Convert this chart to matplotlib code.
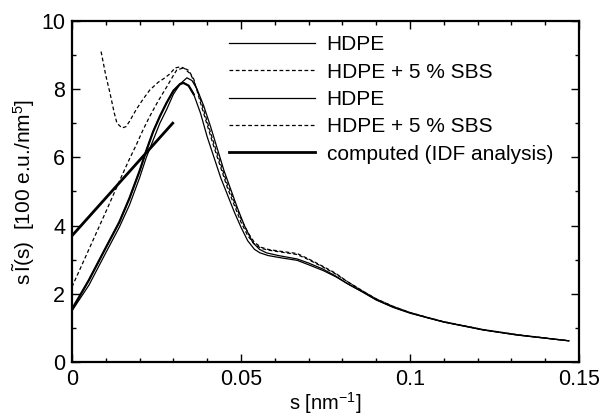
import matplotlib.pyplot as plt
from matplotlib.ticker import MultipleLocator

plt.rcParams['font.family'] = ['Liberation Sans', 'DejaVu Sans']
plt.rcParams['mathtext.fontset'] = 'custom'
plt.rcParams['mathtext.rm'] = 'Liberation Sans'
plt.rcParams['mathtext.it'] = 'Liberation Sans:italic'

# HDPE (solid, lower peak)
s_hdpe1 = [0, 0.005, 0.010, 0.014, 0.017, 0.020, 0.022, 0.024, 0.026, 0.028, 0.030,
           0.032, 0.033, 0.0345, 0.036, 0.038, 0.040, 0.042, 0.044, 0.046, 0.048,
           0.050, 0.052, 0.054, 0.0556, 0.058, 0.062, 0.0666, 0.070, 0.0743, 0.078,
           0.0814, 0.086, 0.090, 0.095, 0.100, 0.105, 0.110, 0.1216, 0.1317, 0.147]
i_hdpe1 = [1.5, 2.4, 3.35, 4.1, 4.8, 5.6, 6.2, 6.75, 7.2, 7.6, 7.95,
           8.15, 8.18, 8.1, 7.85, 7.3, 6.6, 6.0, 5.4, 4.9, 4.4,
           3.95, 3.55, 3.3, 3.2, 3.12, 3.05, 2.98, 2.85, 2.68, 2.5,
           2.3, 2.05, 1.82, 1.6, 1.43, 1.3, 1.17, 0.94, 0.79, 0.62]

# HDPE (solid, second curve)
s_hdpe2 = [0, 0.005, 0.010, 0.014, 0.017, 0.020, 0.022, 0.024, 0.026, 0.028, 0.030,
           0.032, 0.034, 0.0355, 0.037, 0.039, 0.041, 0.043, 0.045, 0.047, 0.049,
           0.051, 0.0535, 0.0555, 0.0575, 0.061, 0.0666, 0.070, 0.0743, 0.078,
           0.0814, 0.086, 0.090, 0.095, 0.100, 0.105, 0.110, 0.1216, 0.1317, 0.147]
i_hdpe2 = [1.5, 2.25, 3.2, 3.95, 4.6, 5.4, 6.0, 6.5, 7.0, 7.4, 7.85,
           8.15, 8.33, 8.25, 8.0, 7.5, 6.9, 6.25, 5.6, 5.05, 4.5,
           4.0, 3.5, 3.3, 3.2, 3.12, 3.02, 2.9, 2.72, 2.52,
           2.3, 2.05, 1.82, 1.61, 1.44, 1.3, 1.17, 0.94, 0.79, 0.62]

# HDPE + 5 % SBS (dashed, from s = 0)
s_sbs1 = [0, 0.005, 0.010, 0.0142, 0.017, 0.019, 0.021, 0.023, 0.0255, 0.028, 0.030,
          0.031, 0.033, 0.0345, 0.036, 0.038, 0.040, 0.042, 0.044, 0.046, 0.048,
          0.050, 0.052, 0.054, 0.056, 0.058, 0.062, 0.0666, 0.070, 0.0743, 0.078,
          0.0814, 0.086, 0.090, 0.095, 0.100, 0.105, 0.110, 0.1216, 0.1317, 0.147]
i_sbs1 = [2.2, 3.3, 4.4, 5.34, 5.95, 6.36, 6.8, 7.2, 7.65, 8.06, 8.4,
          8.56, 8.62, 8.55, 8.3, 7.6, 6.95, 6.3, 5.7, 5.1, 4.6,
          4.1, 3.7, 3.45, 3.33, 3.28, 3.22, 3.15, 3.0, 2.78, 2.58,
          2.36, 2.08, 1.85, 1.63, 1.45, 1.31, 1.18, 0.95, 0.8, 0.62]

# HDPE + 5 % SBS (dashed, with upturn at small s)
s_sbs2 = [0.0086, 0.0100, 0.0112, 0.0125, 0.0133, 0.0148, 0.016, 0.017, 0.019, 0.021,
          0.023, 0.0255, 0.0275, 0.029, 0.0305, 0.032, 0.033, 0.035, 0.036, 0.038,
          0.040, 0.042, 0.044, 0.046, 0.048, 0.050, 0.052, 0.054, 0.056, 0.058, 0.062,
          0.0666, 0.070, 0.0743, 0.078, 0.0814, 0.086, 0.090, 0.095, 0.100, 0.105,
          0.110, 0.1216, 0.1317, 0.147]
i_sbs2 = [9.1, 8.4, 7.9, 7.3, 7.0, 6.86, 6.9, 7.05, 7.4, 7.7,
          7.97, 8.2, 8.33, 8.45, 8.62, 8.65, 8.62, 8.45, 8.25, 7.7,
          7.05, 6.4, 5.8, 5.2, 4.7, 4.2, 3.8, 3.5, 3.36, 3.3, 3.24,
          3.18, 3.02, 2.8, 2.6, 2.36, 2.08, 1.85, 1.63, 1.45, 1.31,
          1.18, 0.95, 0.8, 0.62]

# computed (IDF analysis)
s_idf1 = [0, 0.0298]
i_idf1 = [3.7, 7.0]
s_idf2 = [0, 0.005, 0.010, 0.014, 0.017, 0.020, 0.022, 0.024, 0.026, 0.028, 0.030,
          0.032, 0.033, 0.0345, 0.036]
i_idf2 = [1.55, 2.4, 3.35, 4.1, 4.8, 5.6, 6.2, 6.75, 7.2, 7.6, 7.95,
          8.15, 8.18, 8.1, 7.85]

fig = plt.figure(figsize=(6.05, 4.17), dpi=100)
ax = fig.add_axes([0.119, 0.132, 0.838, 0.818])

dash = (0, (3, 2))
ax.plot(s_hdpe1, i_hdpe1, color='black', lw=0.9, label='HDPE')
ax.plot(s_sbs1, i_sbs1, color='black', lw=0.9, ls=dash, label='HDPE + 5 % SBS')
ax.plot(s_hdpe2, i_hdpe2, color='black', lw=0.9, label='HDPE')
ax.plot(s_sbs2, i_sbs2, color='black', lw=0.9, ls=dash, label='HDPE + 5 % SBS')
ax.plot(s_idf1, i_idf1, color='black', lw=2.0, label='computed (IDF analysis)')
ax.plot(s_idf2, i_idf2, color='black', lw=1.6)

ax.set_xlim(0, 0.15)
ax.set_ylim(0, 10)
ax.xaxis.set_minor_locator(MultipleLocator(0.01))
ax.yaxis.set_minor_locator(MultipleLocator(1))
ax.set_yticks([0, 2, 4, 6, 8, 10])
ax.set_yticklabels(['0', '2', '4', '6', '8', '10'], fontsize=15.5)
ax.set_xticks([0, 0.05, 0.1, 0.15])
ax.set_xticklabels(['0', '0.05', '0.1', '0.15'], fontsize=15.5)
ax.tick_params(which='both', direction='in', top=True, right=True, width=1)
ax.tick_params(which='major', length=6, pad=5)
ax.tick_params(which='minor', length=3)
for sp in ax.spines.values():
    sp.set_linewidth(1.6)

ax.set_xlabel('s [nm$^{-1}$]', fontsize=14.5, labelpad=0)
ax.set_ylabel(r's$\,\tilde{\mathrm{I}}$(s)  [100 e.u./nm$^5$]', fontsize=15, labelpad=3)

ax.legend(loc='upper left', bbox_to_anchor=(0.31, 0.958), frameon=False,
          fontsize=15, handlelength=4.1, handletextpad=0.58, labelspacing=0.4,
          borderpad=0, borderaxespad=0)

fig.savefig('out.png', dpi=100)
